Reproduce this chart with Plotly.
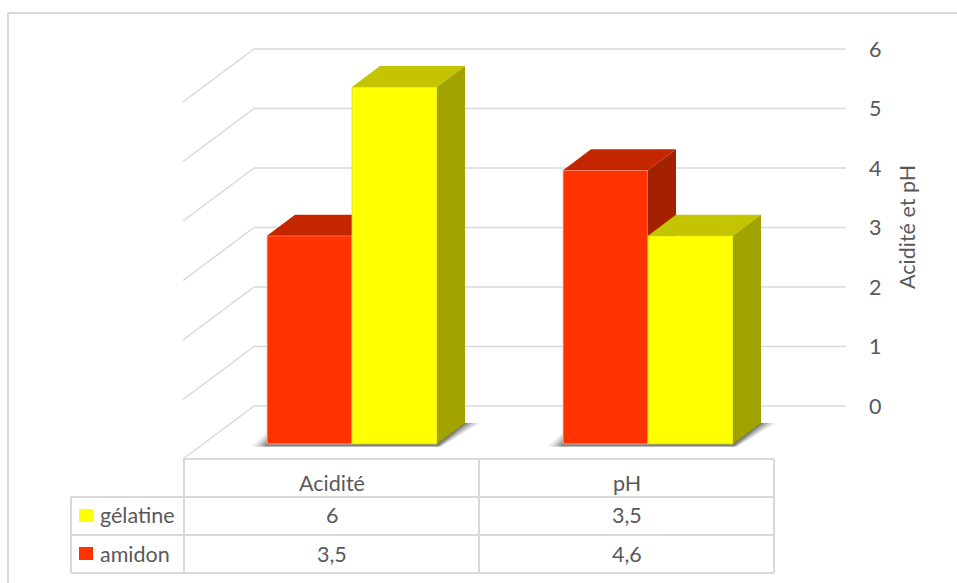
import plotly.graph_objects as go

# Data
categories = ["Acidité", "pH"]
gelatine = [6, 3.5]
amidon = [3.5, 4.6]
tick_values = [0, 1, 2, 3, 4, 5, 6]
series_names = ["gélatine", "amidon"]
axis_title = "Acidité et pH"

# Page and plot geometry, in pixels
W, H = 957, 583
WALL_L, PLOT_R, TOP_6, ZERO_Y = 254, 846, 49, 406
CAT_STEP = 296.0      # distance between the two groups
CAT0_X = 352.0        # pixel position of the first group's centre
UNIT = (ZERO_Y - TOP_6) / 6.0

BAR_W = 85 / CAT_STEP
DEPTH_X = 28 / CAT_STEP
DEPTH_Y = 21 / UNIT
FRONT_BASE = -38 / UNIT     # the bars stand on the floor, in front of the back wall
WALL_X = 71 / CAT_STEP
WALL_Y = 53 / UNIT

GRID = "#D9D9D9"
TEXT = "#595959"
FONT = "Lato"
FONT_SIZE = 21.5

STYLE = {
    "amidon": dict(front="#FF3300", top="#C42700", side="#A32100", edge="rgba(255,190,170,0.8)"),
    "gelatine": dict(front="#FFFF00", top="#C4C400", side="#A3A300", edge="rgba(215,215,60,0.8)"),
}


def polygon(xs, ys, color, axes=("x", "y")):
    return go.Scatter(
        x=list(xs) + [xs[0]], y=list(ys) + [ys[0]],
        mode="lines", fill="toself", fillcolor=color, line=dict(width=0),
        hoverinfo="skip", showlegend=False, xaxis=axes[0], yaxis=axes[1],
    )


def bar_series(name, values, offset, style, axes):
    """Front faces as a bar trace, top and side faces as filled polygons."""
    traces = [go.Bar(
        x=list(range(len(values))), y=values, base=FRONT_BASE, width=BAR_W, offset=offset,
        name=name, marker=dict(color=style["front"], line=dict(color=style["edge"], width=1)),
        showlegend=False, xaxis=axes[0], yaxis=axes[1],
    )]
    for i, v in enumerate(values):
        x0, x1 = i + offset, i + offset + BAR_W
        y0, y1 = FRONT_BASE, FRONT_BASE + v
        traces.append(polygon([x0, x1, x1 + DEPTH_X, x0 + DEPTH_X],
                              [y1, y1, y1 + DEPTH_Y, y1 + DEPTH_Y], style["top"], axes))
        traces.append(polygon([x1, x1 + DEPTH_X, x1 + DEPTH_X, x1],
                              [y0, y0 + DEPTH_Y, y1 + DEPTH_Y, y1], style["side"], axes))
    return traces


def floor_shadow(i):
    """Soft contact shadow under one group, built from nested translucent shapes."""
    traces = []
    x0, x1 = i - BAR_W, i + BAR_W
    for spread, alpha in [(15, 0.10), (11, 0.16), (7, 0.22), (3, 0.30), (0.5, 0.45)]:
        s = spread / CAT_STEP
        low = FRONT_BASE - min(spread, 3) / UNIT * 0.8
        traces.append(polygon(
            [x0 - s, x1 + s * 0.3, x1 + DEPTH_X + s, x1 + DEPTH_X, x0],
            [low, low, FRONT_BASE + DEPTH_Y, FRONT_BASE + DEPTH_Y, FRONT_BASE + s * CAT_STEP / UNIT * 0.75],
            f"rgba(50,50,50,{alpha})",
        ))
    return traces


fig = go.Figure()

for i in range(len(categories)):
    fig.add_traces(floor_shadow(i))

# Each series has its own overlaid axes so that its faces stack over the previous one:
# amidon sits behind gélatine
fig.add_traces(bar_series("amidon", amidon, -BAR_W, STYLE["amidon"], ("x2", "y2")))
fig.add_traces(bar_series("gélatine", gelatine, 0, STYLE["gelatine"], ("x3", "y3")))

# The plot area fills the page height and stops at the right end of the back wall
x_range = [-CAT0_X / CAT_STEP, (PLOT_R - CAT0_X) / CAT_STEP]
y_range = [(ZERO_Y - H) / UNIT, ZERO_Y / UNIT]
wall_x = (WALL_L - CAT0_X) / CAT_STEP


def px(x):
    return x / PLOT_R


def py(y):
    return 1 - y / H


def line(x0, y0, x1, y1, width=2):
    return dict(type="line", xref="paper", yref="paper", layer="below",
                x0=px(x0), y0=py(y0), x1=px(x1), y1=py(y1),
                line=dict(color=GRID, width=width))


def swatch(x0, y0, x1, y1, color):
    return dict(type="rect", xref="paper", yref="paper", x0=px(x0), y0=py(y0),
                x1=px(x1), y1=py(y1), fillcolor=color, line=dict(width=0))


def label(x, y, text, anchor="center", **extra):
    return dict(xref="paper", yref="paper", x=px(x), y=py(y), text=text, showarrow=False,
                xanchor=anchor, yanchor="middle",
                font=dict(family=FONT, size=FONT_SIZE, color=TEXT), **extra)


def fmt(v):
    return str(v).replace(".", ",")


# Gridlines on the back wall and their continuation along the side wall
grid_shapes = []
for v in tick_values:
    common = dict(type="line", xref="x", yref="y", layer="below", line=dict(color=GRID, width=1.5))
    grid_shapes.append(dict(common, x0=wall_x, y0=v, x1=x_range[1], y1=v))
    grid_shapes.append(dict(common, x0=wall_x, y0=v, x1=wall_x - WALL_X, y1=v - WALL_Y))

# Data table below the plot
ROWS = [459, 497, 535, 573]
COLS = [184, 479, 774]
LEFT = 71

shapes = grid_shapes + [line(8, 13, W, 13), line(8, 13, 8, H)]
shapes += [line(COLS[0], ROWS[0], COLS[-1], ROWS[0])]
shapes += [line(LEFT, y, COLS[-1], y) for y in ROWS[1:]]
shapes += [line(COLS[0], ROWS[0], COLS[0], ROWS[-1]), line(COLS[1], ROWS[0], COLS[1], ROWS[-1]),
           line(COLS[2], ROWS[0], COLS[2], ROWS[-1]), line(LEFT, ROWS[1], LEFT, ROWS[-1])]
shapes += [swatch(79, 509, 93, 522, STYLE["gelatine"]["front"]),
           swatch(79, 547, 93, 560, STYLE["amidon"]["front"])]

col_centres = [(COLS[0] + COLS[1]) / 2, (COLS[1] + COLS[2]) / 2]
annotations = [label(98, 515, series_names[0], "left"), label(98, 554, series_names[1], "left")]
for c, cat, g, a in zip(col_centres, categories, gelatine, amidon):
    annotations += [label(c, 483, cat), label(c, 515, fmt(g)), label(c, 554, fmt(a))]
annotations.append(label(907, 227, axis_title, textangle=-90))

fig.update_layout(
    width=W, height=H, autosize=False,
    margin=dict(l=0, r=W - PLOT_R, t=0, b=0, pad=0),
    paper_bgcolor="white", plot_bgcolor="rgba(0,0,0,0)",
    showlegend=False, shapes=shapes, annotations=annotations,
    xaxis=dict(range=x_range, visible=False, fixedrange=True),
    yaxis=dict(
        range=y_range, side="right", tickvals=tick_values, showgrid=False,
        zeroline=False, showline=False, ticks="", ticklabelstandoff=22,
        tickfont=dict(family=FONT, size=FONT_SIZE, color=TEXT), fixedrange=True,
    ),
    xaxis2=dict(range=x_range, visible=False, overlaying="x", fixedrange=True),
    yaxis2=dict(range=y_range, visible=False, overlaying="y", fixedrange=True),
    xaxis3=dict(range=x_range, visible=False, overlaying="x", fixedrange=True),
    yaxis3=dict(range=y_range, visible=False, overlaying="y", fixedrange=True),
)

fig.write_html("out.html", config=dict(displayModeBar=False))
